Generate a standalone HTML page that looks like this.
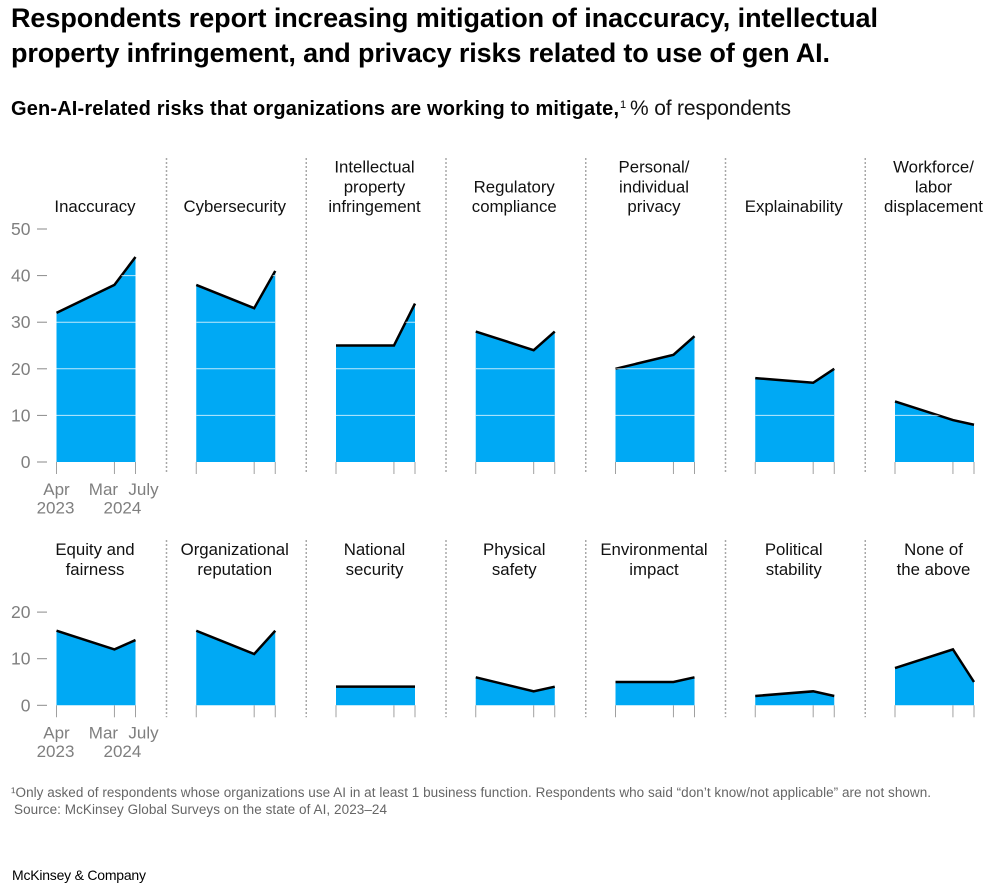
<!DOCTYPE html>
<html lang="en">
<head>
<meta charset="utf-8">
<title>Gen-AI-related risks</title>
<style>
html,body{margin:0;padding:0;background:#fff;}
svg{display:block;font-family:"Liberation Sans",sans-serif;}
</style>
</head>
<body>
<svg id="chart" width="989" height="886" viewBox="0 0 989 886" xmlns="http://www.w3.org/2000/svg">
  <text x="11" y="27" font-size="27" font-weight="700" fill="#000" textLength="867" lengthAdjust="spacing">Respondents report increasing mitigation of inaccuracy, intellectual</text>
  <text x="11" y="62" font-size="27" font-weight="700" fill="#000" textLength="819" lengthAdjust="spacing">property infringement, and privacy risks related to use of gen AI.</text>
  <text x="11" y="115" font-size="20" font-weight="700" fill="#000" textLength="608" lengthAdjust="spacing">Gen-AI-related risks that organizations are working to mitigate,</text>
  <text x="620" y="108" font-size="11" fill="#000">1</text>
  <text x="630" y="115" font-size="21" fill="#111" textLength="161" lengthAdjust="spacing">% of respondents</text>
  <text x="11" y="797" font-size="13.5" fill="#666" textLength="920" lengthAdjust="spacing">¹Only asked of respondents whose organizations use AI in at least 1 business function. Respondents who said “don’t know/not applicable” are not shown.</text>
  <text x="14" y="814" font-size="13.5" fill="#666" textLength="373" lengthAdjust="spacing">Source: McKinsey Global Surveys on the state of AI, 2023–24</text>
  <text x="12" y="880" font-size="14" fill="#000" textLength="134" lengthAdjust="spacing">McKinsey &amp; Company</text>
</svg>
<script>
var monthsSinceStart = [0, 11, 15];
var topCategories = ['Inaccuracy', 'Cybersecurity', 'Intellectual|property|infringement', 'Regulatory|compliance', 'Personal/|individual|privacy', 'Explainability', 'Workforce/|labor|displacement'];
var topApr2023 = [32, 38, 25, 28, 20, 18, 13];
var topMar2024 = [38, 33, 25, 24, 23, 17, 9];
var topJul2024 = [44, 41, 34, 28, 27, 20, 8];
var bottomCategories = ['Equity and|fairness', 'Organizational|reputation', 'National|security', 'Physical|safety', 'Environmental|impact', 'Political|stability', 'None of|the above'];
var bottomApr2023 = [16, 16, 4, 6, 5, 2, 8];
var bottomMar2024 = [12, 11, 4, 3, 5, 3, 12];
var bottomJul2024 = [14, 16, 4, 4, 6, 2, 5];
var topYTicks = [0, 10, 20, 30, 40, 50];
var bottomYTicks = [0, 10, 20];
var topGridValues = [10, 20, 30, 40];
var bottomGridValues = [];
var xLabelTop = ['Apr', 'Mar', 'July'];
var xLabelBottom = ['2023', '2024', ''];

var NS = 'http://www.w3.org/2000/svg';
var svg = document.getElementById('chart');
var PANEL_W = 79, PANEL_STEP = 139.75, PANEL_X0 = 56.5, PX_PER_UNIT = 4.66;

function xScale(panel, month) {
  var domainMax = monthsSinceStart[monthsSinceStart.length - 1];
  return PANEL_X0 + panel * PANEL_STEP + (month / domainMax) * PANEL_W;
}
function yScale(baseY, value) {
  return baseY - value * PX_PER_UNIT;
}
function make(tag, attrs, parent) {
  var el = document.createElementNS(NS, tag);
  for (var k in attrs) { el.setAttribute(k, attrs[k]); }
  (parent || svg).appendChild(el);
  return el;
}

function drawRow(rowName, baseY, dividerTop, categories, a, b, c, yTicks, gridValues) {
  var i, j;
  // y axis
  yTicks.forEach(function (t) {
    var tickY = yScale(baseY, t);
    var tick = make('line', { x1: 37, x2: 47, y1: tickY, y2: tickY, stroke: '#8a8a8a', 'stroke-width': 1 });
    
    
    var lab = make('text', { x: 30.5, y: tickY + 6, 'text-anchor': 'end', 'font-size': 17.5, fill: '#7f7f7f' });
    lab.textContent = t;
    
    
  });
  // x labels on first panel
  monthsSinceStart.forEach(function (m, idx) {
    var cx = xScale(0, m);
    var offsets = [0, -11, 8];
    var yearOffsets = [-1, 8, 0];
    var l1 = make('text', { x: cx + offsets[idx], y: baseY + 33, 'text-anchor': 'middle', 'font-size': 17, fill: '#7f7f7f' });
    l1.textContent = xLabelTop[idx];
    
    
    if (xLabelBottom[idx]) {
      var l2 = make('text', { x: cx + yearOffsets[idx], y: baseY + 51.5, 'text-anchor': 'middle', 'font-size': 17, fill: '#7f7f7f' });
      l2.textContent = xLabelBottom[idx];
      
      
    }
  });
  for (i = 0; i < categories.length; i++) {
    var vals = [a[i], b[i], c[i]];
    var g = make('g', {});
    
    

    // divider
    if (i < categories.length - 1) {
      var divX = PANEL_X0 + i * PANEL_STEP + 110;
      var div = make('line', { x1: divX, x2: divX, y1: dividerTop, y2: baseY + 12, stroke: '#a8a8a8', 'stroke-width': 1.5, 'stroke-dasharray': '2 2' }, g);
      
      
    }

    // category label
    var lines = categories[i].split('|');
    var labelCx = xScale(i, monthsSinceStart[2] / 2) - 1;
    for (j = 0; j < lines.length; j++) {
      var t = make('text', { x: labelCx, y: baseY - 250 + (j - lines.length + 1) * 19.7, 'text-anchor': 'middle', 'font-size': 16.8, fill: '#111' }, g);
      if (rowName === 'bottom') { t.setAttribute('y', baseY - 130.5 + (j - lines.length + 1) * 19.7); }
      t.textContent = lines[j];
      
      
    }

    // area
    var pts = monthsSinceStart.map(function (m, k) {
      return xScale(i, m) + ',' + yScale(baseY, vals[k]);
    });
    var areaPts = xScale(i, monthsSinceStart[0]) + ',' + baseY + ' ' + pts.join(' ') + ' ' + xScale(i, monthsSinceStart[2]) + ',' + baseY;
    var area = make('polygon', { points: areaPts, fill: '#00a9f4' }, g);
    
    

    // x ticks
    monthsSinceStart.forEach(function (m) {
      var tx = xScale(i, m);
      var tk = make('line', { x1: tx, x2: tx, y1: baseY, y2: baseY + 12, stroke: '#a0a0a0', 'stroke-width': 1 }, g);
      
      
    });

    // line
    var ln = make('polyline', { points: pts.join(' '), fill: 'none', stroke: '#000', 'stroke-width': 2.5, 'stroke-linejoin': 'miter' }, g);
    
    

    // gridlines clipped to the area
    var clipId = rowName + '-clip-' + i;
    var clip = make('clipPath', { id: clipId }, g);
    make('polygon', { points: areaPts }, clip);
    gridValues.forEach(function (v) {
      var gy = yScale(baseY, v);
      var gl = make('line', { x1: xScale(i, 0), x2: xScale(i, monthsSinceStart[2]), y1: gy, y2: gy, stroke: '#ffffff', 'stroke-opacity': 0.75, 'stroke-width': 1, 'clip-path': 'url(#' + clipId + ')' }, g);
      
      
    });
  }
}

drawRow('top', 462, 158, topCategories, topApr2023, topMar2024, topJul2024, topYTicks, topGridValues);
drawRow('bottom', 705.3, 540, bottomCategories, bottomApr2023, bottomMar2024, bottomJul2024, bottomYTicks, bottomGridValues);
</script>
</body>
</html>
